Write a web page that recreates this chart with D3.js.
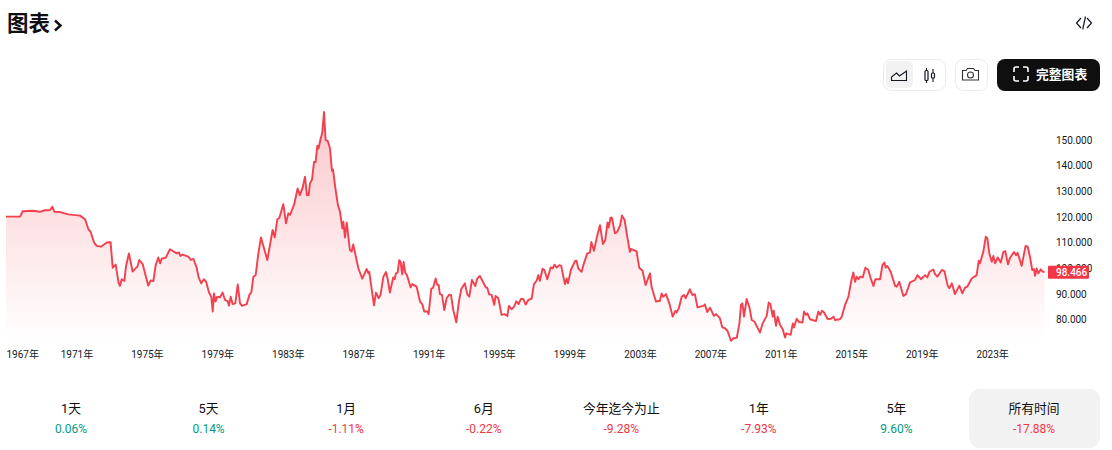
<!DOCTYPE html>
<html lang="zh"><head><meta charset="utf-8">
<script src="https://cdnjs.cloudflare.com/ajax/libs/d3/7.8.5/d3.min.js"></script>
<style>html,body{margin:0;padding:0;background:#fff;overflow:hidden}svg{display:block}text{font-family:Roboto,"Noto Sans CJK SC",sans-serif}</style>
</head><body><svg id="c" width="1112" height="450"></svg>
<script>
const years=[1967,1967.8,1967.95,1968.55,1968.93,1969.2,1969.5,1969.63,1969.75,1970.07,1970.54,1971.2,1971.49,1971.68,1971.8,1972,1972.15,1972.4,1972.72,1972.94,1973.06,1973.23,1973.4,1973.47,1973.57,1973.72,1973.81,1973.98,1974.19,1974.46,1974.57,1974.76,1975.08,1975.21,1975.37,1975.5,1975.65,1975.75,1975.84,1976.07,1976.31,1976.69,1976.82,1976.9,1977.03,1977.35,1977.5,1977.64,1977.83,1977.94,1978.09,1978.24,1978.36,1978.53,1978.66,1978.74,1978.81,1978.9,1979,1979.15,1979.3,1979.44,1979.59,1979.66,1979.76,1979.87,1980.02,1980.16,1980.29,1980.4,1980.67,1980.82,1980.93,1981.05,1981.18,1981.33,1981.48,1981.84,1982.14,1982.26,1982.41,1982.52,1982.75,1982.9,1983.03,1983.13,1983.37,1983.56,1983.69,1983.85,1983.98,1984.09,1984.19,1984.26,1984.38,1984.49,1984.58,1984.68,1984.75,1984.87,1984.96,1985.06,1985.15,1985.27,1985.4,1985.51,1985.57,1985.72,1985.85,1985.97,1986.1,1986.16,1986.25,1986.35,1986.53,1986.63,1986.72,1987.01,1987.23,1987.48,1987.58,
1987.63,1987.72,1987.9,1988.01,1988.16,1988.27,1988.43,1988.58,1988.67,1988.8,1988.99,1989.07,1989.14,1989.24,1989.33,1989.41,1989.5,1989.58,1989.67,1989.77,1989.98,1990.07,1990.32,1990.51,1990.64,1990.75,1990.94,1991,1991.15,1991.25,1991.4,1991.49,1991.57,1991.64,1991.76,1991.89,1992.02,1992.17,1992.27,1992.4,1992.57,1992.72,1992.85,1993.06,1993.2,1993.31,1993.46,1993.65,1993.76,1993.91,1994.25,1994.33,1994.44,1994.58,1994.73,1994.8,1994.96,1995.14,1995.3,1995.47,1995.56,1995.71,1995.85,1995.98,1996.11,1996.24,1996.38,1996.51,1996.66,1996.85,1996.98,1997.13,1997.23,1997.32,1997.47,1997.57,1997.74,1997.93,1998.04,1998.15,1998.27,1998.42,1998.53,1998.74,1998.84,1998.91,1999.08,1999.31,1999.4,1999.5,1999.69,1999.82,2000.01,2000.16,2000.24,2000.39,2000.58,2000.73,2000.9,2001.03,2001.16,2001.22,2001.33,2001.41,2001.58,2001.71,2001.88,2001.98,2002.13,2002.28,2002.43,2002.49,2002.81,2002.96,2003.15,2003.32,2003.57,2003.66,2003.91,2004.14,2004.23,2004.32,2004.48,2004.67,2004.86,2005.01,2005.08,2005.21,2005.37,2005.5,2005.59,2005.84,2005.97,2006.12,2006.27,2006.6,2006.69,2006.82,2006.98,2007.2,2007.32,2007.54,2007.68,2007.83,2007.97,
2008.17,2008.31,2008.5,2008.65,2008.74,2008.82,2008.91,2009.06,2009.22,2009.35,2009.5,2009.82,2009.97,2010.2,2010.31,2010.41,2010.54,2010.6,2010.73,2010.82,2010.96,2011.11,2011.24,2011.32,2011.56,2011.68,2011.75,2011.9,2012.04,2012.23,2012.32,2012.43,2012.51,2012.66,2013,2013.13,2013.23,2013.34,2013.46,2013.66,2013.85,2013.99,2014.08,2014.36,2014.46,2014.65,2014.84,2014.99,2015.12,2015.22,2015.31,2015.41,2015.5,2015.65,2015.8,2015.97,2016.11,2016.26,2016.37,2016.64,2016.77,2016.88,2016.96,2017.05,2017.24,2017.49,2017.58,2017.73,2017.96,2018.11,2018.34,2018.62,2018.76,2018.96,2019.19,2019.32,2019.44,2019.66,2019.76,2019.89,2020.14,2020.29,2020.48,2020.57,2020.71,2020.89,2021.14,2021.31,2021.46,2021.59,2021.84,2022.12,2022.24,2022.31,2022.5,2022.64,2022.73,2022.84,2022.98,2023.07,2023.17,2023.32,2023.49,2023.64,2023.75,2023.9,2024.02,2024.24,2024.36,2024.45,2024.68,2024.9,2025.02,2025.15,2025.28,2025.38,2025.44,2025.53,2025.63,2025.76,2025.87,2025.98];
const values=[120.1,120.1,122.2,122.4,122,122.6,122.7,124,122,121.9,121,120.5,119.1,115.2,114.3,110,108.7,108.4,110,110.1,100.2,101.4,94.1,93.1,95.7,95,100.6,105.8,98.7,100.6,103.2,101.6,93.2,95.2,95,101.2,104.2,101.9,103.7,104.1,107.4,105.8,106.2,104.8,105.3,104.5,103.2,103.7,100.2,96.4,94.1,95.7,94.8,90.5,88.9,83.1,90.2,87,88.9,88.6,90.5,87.6,87.2,85.4,88.9,86,86.3,93.7,86.3,85.3,86,89.6,90.6,96.7,97.4,105.8,112,103.2,114.9,112,119.1,119.6,125,117.5,121.4,120.8,125,131.1,128.5,131.5,135.7,128.5,128.5,133.1,134.6,141.4,141.4,147.8,146.7,150.6,152.8,160.9,150,149.7,146.7,138,138.5,130.5,124.6,122,115.5,118.1,112,117.8,107.1,106.5,109.3,100,95.9,99.7,98,
98.6,94.1,85.5,90.5,88.3,89.6,96.7,98.5,96,90.5,96.4,95.7,98,98.3,103.1,102.5,97.6,102.4,98.3,97.3,92.5,93.8,92.8,87,86,83.1,83.1,82.1,92,92.3,96,93.5,93.5,89.9,89.6,83.7,88.3,89.7,89.6,83.7,78.9,87,91.8,94.1,89.8,88.9,95.4,93.1,95.9,97,92.5,92.4,89.8,89.6,85.7,89.2,88.3,81.8,82.1,81.4,85.3,84,85,87.1,86,88,88,85.8,87.6,88.1,93.8,95.1,97.3,95.1,99.8,99.3,95.7,100.3,99.9,101.4,100.3,101.2,100.9,93.8,96,94.1,99.3,102.8,102.9,99.9,98.6,101.9,105.8,106.1,110.2,106.8,112.9,116.8,109.4,111,117.8,115.9,119.7,119.7,113.6,114.2,116.8,120.6,118.8,112.3,106.4,107.5,106.6,100.2,99,93.4,98,92.8,87,87.3,90.2,88.9,89.9,86.3,81.1,83.4,82.7,84.4,88.9,89.6,88.3,91.8,89.6,89.9,84.7,85.3,85.9,82.9,84.6,81.4,82.1,80.5,76.9,76.6,75.6,
71.7,72.7,72.9,78.5,85.7,86.3,81.1,88,84.7,79.8,79.2,74.9,78.5,81.4,86.6,86,81.1,83.4,77.5,81.1,77.9,76.2,73,74.6,74,78.5,76.9,80.3,79,78.8,83.1,81.8,82.4,80.1,79.4,83.1,81.8,83.4,82.7,80.2,80.3,81.1,79.8,80.1,81.1,85.7,88.9,94.7,98.3,94.7,96.7,95.7,96.7,96.4,100.2,99.3,96,93.1,95.7,95.7,101.2,102.2,100.2,100.9,98.6,93.1,92.8,94.7,89.2,89.9,94.5,95.4,97.3,95.7,97.3,96.4,98.6,99.5,97.7,96.7,99.3,98.9,93.1,92.2,94.1,89.9,93.2,90.2,92.4,92.8,96,97.3,102.9,101.9,106.4,112.3,111.6,105.8,102.5,104.8,101.9,104.2,102.2,106.4,106.7,101.5,104.1,106.3,105.1,106,100.9,108.7,108.4,104.5,99.3,99.6,97,99.9,98,99.6,98.7,98.466];
const xTickYears=[1967,1971,1975,1979,1983,1987,1991,1995,1999,2003,2007,2011,2015,2019,2023];
const yTicks=[80,90,100,110,120,130,140,150];
const lastPrice="98.466";
const periodLabels=["1天","5天","1月","6月","今年迄今为止","1年","5年","所有时间"];
const periodChanges=["0.06%","0.14%","-1.11%","-0.22%","-9.28%","-7.93%","9.60%","-17.88%"];

const RED="#f23645",GREEN="#089981",INK="#131722";
const svg=d3.select("#c");
const x=d3.scaleLinear().domain([1967,2025.89]).range([6,1043]);
const y=d3.scaleLinear().domain([80,150]).range([319.5,140]);
const floor=71.9;
const pts=d3.zip(years,values);

const grad=svg.append("defs").append("linearGradient").attr("id","g").attr("gradientUnits","userSpaceOnUse")
 .attr("x1",0).attr("x2",0).attr("y1",y(160.9)).attr("y2",y(floor));
grad.append("stop").attr("offset",0).attr("stop-color",RED).attr("stop-opacity",.28);
grad.append("stop").attr("offset",1).attr("stop-color",RED).attr("stop-opacity",0);

svg.append("path").datum(pts).attr("fill","url(#g)")
 .attr("d",d3.area().x(d=>x(d[0])).y0(y(floor)).y1(d=>y(d[1])));
svg.append("path").datum(pts).attr("fill","none").attr("stroke",RED).attr("stroke-opacity",.95).attr("stroke-width",1.9).attr("stroke-linejoin","round")
 .attr("d",d3.line().x(d=>x(d[0])).y(d=>y(d[1])));

const xa=svg.append("g").attr("transform","translate(0,350.5)")
 .call(d3.axisBottom(x).tickValues(xTickYears).tickSize(0).tickPadding(0).tickFormat(d=>d+"年"));
xa.select(".domain").remove();
xa.selectAll("text").attr("font-size",10).attr("fill",INK).attr("dy","0.75em").style("font-family",'Roboto,"Noto Sans CJK SC",sans-serif');
xa.selectAll(".tick").filter(d=>d===1967).select("text").attr("text-anchor","start");

const ya=svg.append("g").attr("transform","translate(1056,0)")
 .call(d3.axisRight(y).tickValues(yTicks).tickSize(0).tickPadding(0).tickFormat(d3.format(".3f")));
ya.select(".domain").remove();
ya.selectAll("text").attr("font-size",10).attr("fill",INK).style("font-family",'Roboto,sans-serif');

svg.append("rect").attr("x",1048).attr("y",y(+lastPrice)-6.5).attr("width",41).attr("height",13).attr("rx",1).attr("fill",RED);
svg.append("text").attr("x",1056).attr("y",y(+lastPrice)+3.6).attr("font-size",10).attr("font-weight",500).attr("fill","#fff").text(lastPrice);

// header
svg.append("text").attr("x",7).attr("y",31).attr("font-size",21.5).attr("font-weight",700).attr("fill","#0f0f0f").text("图表");
svg.append("path").attr("d","M55 20.5l5.5 5-5.5 5").attr("fill","none").attr("stroke","#0f0f0f").attr("stroke-width",2.4);
svg.append("path").attr("d","M1081 18l-4.5 5 4.5 5M1087 18l4.5 5-4.5 5M1085.5 16.5l-2.8 13").attr("fill","none").attr("stroke","#131722").attr("stroke-width",1.2);

// toolbar
const frame=(a,b,w,h,r,f,s)=>svg.append("rect").attr("x",a).attr("y",b).attr("width",w).attr("height",h).attr("rx",r).attr("fill",f).attr("stroke",s||"none");
frame(883.5,59.5,62,31,8,"#fff","#ebebeb");
frame(886,61,27,27,5,"#f2f2f2");
frame(955.5,59.5,32,31,8,"#fff","#ebebeb");
frame(997,59,103,32,8,"#0f0f0f");
const ic=(d,c,w)=>svg.append("path").attr("d",d).attr("fill","none").attr("stroke",c||"#131722").attr("stroke-width",w||1.1);
ic("M891.5 80.5v-3.5l5-4 3 3 7-5v9.5z");
ic("M926.5 68v3M926.5 80v3M933 69v4M933 78v4");
svg.append("rect").attr("x",925).attr("y",70.5).attr("width",3).attr("height",10).attr("rx",1).attr("fill","#fff").attr("stroke","#131722").attr("stroke-width",1.2);
svg.append("rect").attr("x",931.5).attr("y",73).attr("width",3).attr("height",5).attr("rx",1).attr("fill","#fff").attr("stroke","#131722").attr("stroke-width",1.2);
ic("M962.5 80v-9.5h3.5l1.5-2h6l1.5 2h3.5v9.5z","#333");
svg.append("circle").attr("cx",970.5).attr("cy",75).attr("r",3).attr("fill","none").attr("stroke","#333").attr("stroke-width",1.1);
ic("M1019 67h-3a2 2 0 0 0-2 2v3M1023 67h3a2 2 0 0 1 2 2v3M1019 81h-3a2 2 0 0 1-2-2v-3M1023 81h3a2 2 0 0 0 2-2v-3","#fff",1.6);
svg.append("text").attr("x",1036).attr("y",79).attr("font-size",12.8).attr("font-weight",700).attr("fill","#fff").text("完整图表");

// range tabs
const tabX=d3.scalePoint().domain(periodLabels).range([71,1034]);
frame(969,389,131,59,11,"#f2f2f2");
const tabs=svg.append("g").selectAll("g").data(d3.zip(periodLabels,periodChanges)).join("g")
 .attr("transform",d=>`translate(${tabX(d[0])},0)`).attr("text-anchor","middle");
tabs.append("text").attr("y",413).attr("font-size",12.8).attr("fill","#0f0f0f").attr("font-weight",400).text(d=>d[0]);
tabs.append("text").attr("y",432.5).attr("font-size",12).attr("fill",d=>d[1][0]==="-"?RED:GREEN).text(d=>d[1]);
</script></body></html>
